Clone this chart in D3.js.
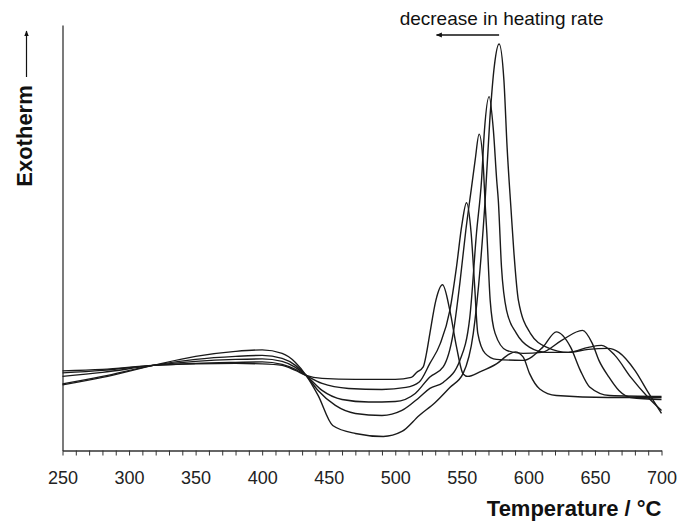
<!DOCTYPE html>
<html>
<head>
<meta charset="utf-8">
<script src="https://cdn.jsdelivr.net/npm/d3@7"></script>
<style>
  body { margin: 0; background: #fff; }
  svg { display: block; font-family: "Liberation Sans", Arial, sans-serif; }
</style>
</head>
<body>
<div id="chart"></div>
<script>
// DSC traces, [temperature degC, heat flow (arbitrary units, exotherm up)]
// fastest heating rate first
const rate1 = [[250,13.1],[280,14.6],[318,17.0],[350,18.8],[380,19.8],[400,20.1],[415,19.4],[425,17.6],[433,15.0],[442,11.0],[453,5.0],[470,3.4],[491,2.8],[505,3.8],[518,7.0],[530,9.6],[541,12.6],[551,15.4],[558.6,23.4],[563.8,36.6],[567.5,50.0],[571,66.0],[574.5,77.0],[578,81.2],[581.6,74.0],[584,60.6],[587,48.0],[589,40.0],[592.5,30.0],[601.5,23.4],[614,20.6],[630,19.6],[645,20.2],[660,20.4],[668,19.6],[680,16.0],[690,11.6],[700,7.4]];
const rate2 = [[250,13.3],[280,14.8],[318,17.0],[350,18.2],[380,18.8],[400,19.0],[415,18.4],[425,17.0],[433,15.0],[442,12.0],[455,9.0],[470,7.4],[490,7.0],[505,8.0],[518,10.6],[526,12.4],[536,13.6],[548.5,18.0],[556,26.6],[561,43.4],[564.8,54.0],[567,64.0],[570.5,70.7],[573.7,64.0],[576.2,54.0],[577.4,50.0],[579.8,36.6],[583.6,28.0],[591,23.4],[601,20.6],[613.6,19.6],[630,19.6],[645,20.6],[655,21.0],[665,19.0],[677,14.6],[690,10.6],[700,8.0]];
const rate3 = [[250,14.8],[280,15.6],[318,17.0],[350,17.8],[380,18.2],[400,18.3],[415,17.8],[425,16.6],[433,15.0],[445,12.0],[460,10.2],[480,9.7],[500,9.8],[515,11.4],[526,14.7],[536,16.7],[543.5,23.4],[548.5,33.4],[553,44.0],[557,52.0],[560,58.0],[563,63.2],[566,57.4],[567.5,49.4],[568.8,43.4],[571.3,30.0],[575,23.4],[583.6,20.0],[596,19.4],[610,19.6],[625,22.0],[640.6,24.0],[648,21.4],[653,18.0],[660.7,14.6],[668,12.0],[677,10.6],[700,10.2]];
const rate4 = [[250,15.5],[280,16.0],[318,17.0],[350,17.4],[380,17.6],[400,17.7],[415,17.2],[425,16.2],[433,15.0],[445,13.4],[465,12.4],[490,12.2],[508,12.6],[518,13.7],[526,17.4],[533.7,21.3],[541,28.0],[546,36.7],[550,45.0],[553.5,49.5],[557,43.4],[559.5,33.4],[562,23.4],[567.5,19.4],[576,18.2],[596,18.0],[611,20.7],[621,23.7],[631.6,20.7],[639,16.0],[646,12.7],[661,11.0],[700,10.8]];
const rate5 = [[250,15.9],[280,16.2],[318,17.0],[350,17.3],[380,17.4],[400,17.3],[415,17.0],[425,16.0],[433,15.0],[445,14.4],[470,14.2],[500,14.2],[512,14.6],[516,15.6],[521,16.7],[523.5,19.5],[526,23.4],[530.5,30.0],[535.5,33.1],[541,28.0],[546,20.7],[551,15.3],[554.5,14.8],[563.5,15.7],[576,17.3],[586,19.3],[590,19.7],[596,18.7],[601,15.3],[608.5,12.3],[621,11.0],[660,10.6],[700,10.6]];
const series = [rate1, rate2, rate3, rate4, rate5];

const xTicks = d3.range(250, 701, 10);
const xLabels = [250, 300, 350, 400, 450, 500, 550, 600, 650, 700];

const width = 681;
const height = 526;
const plot = { left: 62.5, right: 661.5, top: 25, bottom: 450.5 };

const svg = d3.select("#chart")
  .append("svg")
  .attr("width", width)
  .attr("height", height);

// arrow heads
const defs = svg.append("defs");
defs.append("marker")
  .attr("id", "head")
  .attr("viewBox", "0 0 10 10")
  .attr("refX", 9).attr("refY", 5)
  .attr("markerWidth", 6).attr("markerHeight", 6)
  .attr("markerUnits", "userSpaceOnUse")
  .attr("orient", "auto")
  .append("path")
  .attr("d", "M0,1 L10,5 L0,9 Z")
  .attr("fill", "#111");

const x = d3.scaleLinear().domain([250, 700]).range([plot.left, plot.right]);
const y = d3.scaleLinear().domain([0, 85]).range([plot.bottom, plot.top]);

// X axis, minor ticks every 10, labels every 50
const xAxis = svg.append("g")
  .attr("transform", `translate(0,${plot.bottom})`)
  .call(d3.axisBottom(x)
    .tickValues(xTicks)
    .tickSize(5)
    .tickSizeOuter(0)
    .tickPadding(16)
    .tickFormat(d => xLabels.includes(d) ? d : ""));
xAxis.select(".domain").attr("stroke", "#333").attr("stroke-width", 1.3);
xAxis.selectAll(".tick line").attr("stroke", "#333");
xAxis.selectAll(".tick text")
  .attr("font-size", "18px")
  .attr("fill", "#222")
  .attr("font-family", "'Liberation Sans', Arial, sans-serif");

// Y axis, plain line
const yAxis = svg.append("g")
  .attr("transform", `translate(${plot.left},0)`)
  .call(d3.axisLeft(y).tickValues([]).tickSizeOuter(0));
yAxis.select(".domain").attr("stroke", "#333").attr("stroke-width", 1.3);

// Curves
const line = d3.line()
  .x(d => x(d[0]))
  .y(d => y(d[1]))
  .curve(d3.curveMonotoneX);

svg.append("g")
  .selectAll("path")
  .data(series)
  .enter()
  .append("path")
  .attr("fill", "none")
  .attr("stroke", "#1a1a1a")
  .attr("stroke-width", 1.4)
  .attr("d", line);

// Axis titles
svg.append("text")
  .attr("x", plot.right)
  .attr("y", 516)
  .attr("text-anchor", "end")
  .attr("font-size", "22px")
  .attr("font-weight", "bold")
  .attr("fill", "#111")
  .text("Temperature / °C");

svg.append("text")
  .attr("transform", "translate(31.5,136) rotate(-90)")
  .attr("text-anchor", "middle")
  .attr("font-size", "22px")
  .attr("font-weight", "bold")
  .attr("fill", "#111")
  .text("Exotherm");

svg.append("line")
  .attr("x1", 26.5).attr("y1", 77)
  .attr("x2", 26.5).attr("y2", 31)
  .attr("stroke", "#111")
  .attr("stroke-width", 1.2)
  .attr("marker-end", "url(#head)");

// Annotation
svg.append("text")
  .attr("x", 603.5)
  .attr("y", 25)
  .attr("text-anchor", "end")
  .attr("font-size", "19px")
  .attr("fill", "#111")
  .text("decrease in heating rate");

svg.append("line")
  .attr("x1", x(578)).attr("y1", 35)
  .attr("x2", 436.5).attr("y2", 35)
  .attr("stroke", "#111")
  .attr("stroke-width", 1.6)
  .attr("marker-end", "url(#head)");
</script>
</body>
</html>
